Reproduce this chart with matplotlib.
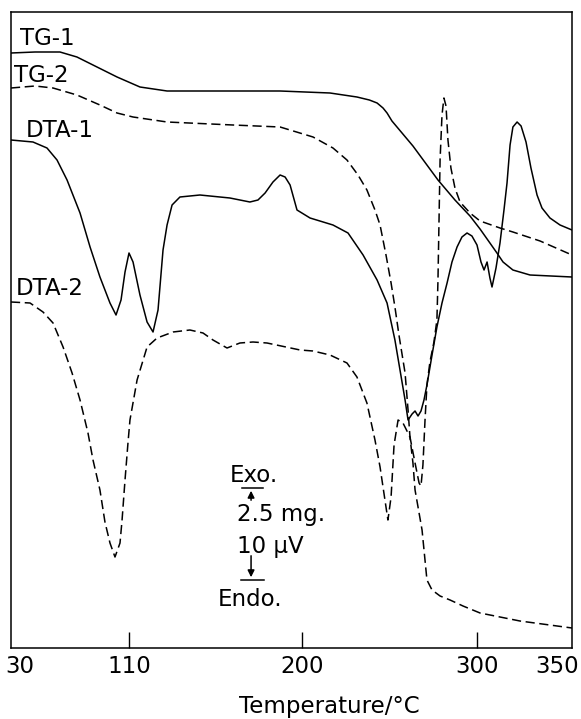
"""TG / DTA thermograms of two samples (1 = solid, 2 = dashed), redrawn from a scan."""
import numpy as np
import matplotlib
matplotlib.use("Agg")
import matplotlib.pyplot as plt
from matplotlib.transforms import ScaledTranslation

# temperature axis of the original is not drawn to a linear scale -> piecewise through the ticks
TICK_T = [30, 110, 200, 300, 350]
TICK_LABELS = ["30", "110", "200", "300", "350"]
TICK_POS = [0, 118, 291, 466, 561]

# signal in arbitrary units (height above the bottom frame), curves offset as in the original
tg1_t = [30, 46.3, 63.2, 74.7, 88.3, 101.9, 115.7, 129.8, 164.1, 188.6, 216, 231.4, 238.5, 242.9,
         246.3, 248.6, 251.4, 263.4, 277.7, 287.4, 296, 301.6, 306.8, 310.5, 313.7, 318.9, 327.9, 350]
tg1_s = [595, 596, 596, 591, 581, 571, 561, 557, 557, 557, 555, 551, 548, 545,
         540, 535, 527, 502, 468, 448, 432, 419, 405, 395, 386, 378, 373, 371]

tg2_t = [30, 46.3, 58.5, 74.7, 90.3, 101.9, 112.1, 129.8, 164.1, 188.6, 206.3, 217.7, 225.7, 232,
         237.1, 241.7, 244.6, 248, 250.9, 253.1, 255.4, 258.9, 260.6, 261.7, 263.4, 264.6, 266.3,
         268.6, 271.4, 274.3, 278.9, 284.6, 292, 301.6, 322.6, 350]
tg2_s = [560, 562, 560, 553, 543, 535, 531, 526, 523, 521, 511, 500, 488, 473,
         458, 438, 423, 393, 365, 341, 313, 275, 238, 211, 185, 158, 141,
         118, 68, 58, 52, 48, 42, 35, 27, 20]

dta1_t = [30, 44.9, 54.4, 61.2, 68, 76.8, 83.6, 90.3, 97.1, 101.2, 104.6, 107.3, 110, 112.1,
          115.7, 119.4, 122.5, 125.1, 127.7, 129.8, 132.4, 136.5, 146.9, 162.5, 172.9, 177.1,
          180.8, 184.9, 188.6, 191.2, 193.8, 197.4, 204.6, 217.7, 226.3, 234.9, 242.9, 248.6,
          253.1, 256, 258.9, 260.6, 262.9, 264.6, 266.3, 268, 269.7, 271.4, 274.3, 277.1, 280,
          282.9, 285.7, 288.6, 291.4, 294.3, 297.1, 300, 302.1, 303.7, 305.3, 306.8, 307.9, 310,
          312.1, 314.2, 315.8, 317.4, 318.9, 321.1, 323.2, 325.8, 328.4, 331.6, 334.2, 338.4,
          343.7, 350]
dta1_s = [508, 506, 500, 488, 468, 435, 401, 371, 345, 333, 348, 376, 395, 386,
          353, 326, 316, 338, 398, 423, 443, 451, 453, 450, 446, 448,
          455, 466, 473, 471, 463, 438, 430, 423, 415, 393, 368, 345,
          308, 278, 248, 228, 234, 237, 232, 237, 248, 263, 293, 321, 345,
          365, 386, 401, 411, 415, 412, 403, 386, 378, 386, 370, 361, 380,
          405, 438, 465, 503, 521, 526, 522, 506, 480, 453, 440, 430,
          423, 418]

dta2_t = [30, 42.9, 51.7, 58.5, 65.3, 71.4, 76.8, 82.2, 85.6, 90.3, 93.7, 97.1, 100.5, 103.9,
          105.3, 107.3, 109.3, 110.5, 114.2, 119.4, 124.6, 132.9, 141.7, 148.5, 153.7, 161,
          167.7, 174.5, 181.8, 199, 206.3, 216, 225.7, 231.4, 237.1, 241.7, 244.6, 247.4, 249.1,
          250.9, 252.6, 254.9, 257.7, 261.7, 264.6, 266.9, 268, 269.1, 270.3, 271.4, 273.1,
          275.4, 277.1, 277.7, 278.3, 278.9, 280, 281.1, 282.3, 283.4, 285.1, 287.4, 290.3, 296,
          301.6, 312.1, 318.9, 333.2, 350]
dta2_s = [346, 345, 336, 325, 301, 275, 248, 215, 188, 158, 126, 105, 91, 105,
          128, 168, 205, 228, 268, 301, 310, 316, 318, 315, 308, 300,
          305, 306, 305, 298, 297, 293, 285, 271, 245, 208, 181, 148, 128,
          151, 203, 228, 225, 211, 185, 165, 162, 183, 228, 263, 286,
          306, 328, 368, 428, 488, 533, 550, 542, 508, 480, 460, 446, 435,
          427, 420, 416, 407, 393]


def fwd(t):
    return np.interp(t, TICK_T, TICK_POS)


def inv(p):
    return np.interp(p, TICK_POS, TICK_T)


fig = plt.figure(figsize=(5.81, 7.19), dpi=100)
ax = fig.add_axes([11 / 581, 71 / 719, 561 / 581, 636 / 719])
ax.set_xscale("function", functions=(fwd, inv))

DASH = (0, (6, 3))
kw = dict(color="black", lw=1.1, solid_joinstyle="round", dash_joinstyle="round")
ax.plot(tg1_t, tg1_s, **kw)
ax.plot(tg2_t, tg2_s, ls=DASH, **kw)
ax.plot(dta1_t, dta1_s, **kw)
ax.plot(dta2_t, dta2_s, ls=DASH, **kw)

ax.set_xlim(30, 350)
ax.set_ylim(0, 636)
ax.set_yticks([])
for s in ax.spines.values():
    s.set_linewidth(1.1)

ax.set_xticks(TICK_T)
ax.set_xticklabels(TICK_LABELS)
ax.tick_params(axis="x", direction="in", length=11.5, width=1.0, labelsize=16.5, pad=5)
ticks = ax.xaxis.get_major_ticks()
ticks[0].tick1line.set_visible(False)
ticks[-1].tick1line.set_visible(False)
lab = ax.get_xticklabels()
lab[0].set_transform(lab[0].get_transform() + ScaledTranslation(0.09, 0, fig.dpi_scale_trans))
lab[-1].set_transform(lab[-1].get_transform() + ScaledTranslation(-0.15, 0, fig.dpi_scale_trans))

fig.text(329 / 581, 1 - 713 / 719, "Temperature/°C", ha="center", va="baseline", fontsize=16.5)

# curve names
tk = dict(fontsize=16.5, ha="left", va="baseline")
ax.text(36.1, 603, "TG-1", **tk)
ax.text(32.0, 566, "TG-2", **tk)
ax.text(40.2, 511, "DTA-1", **tk)
ax.text(33.4, 353, "DTA-2", **tk)

# scale bar
xb = 173.5
ax.text(175.0, 166, "Exo.", fontsize=16.5, ha="center", va="baseline")
ax.plot([168.8, 179.7], [160, 160], color="black", lw=1.1)
ax.annotate("", xy=(xb, 160), xytext=(xb, 145),
            arrowprops=dict(arrowstyle="-|>", color="black", lw=1.1, mutation_scale=10))
ax.text(166.2, 127, "2.5 mg.", fontsize=16.5, ha="left", va="baseline")
ax.text(166.2, 95, "10 μV", fontsize=16.5, ha="left", va="baseline")
ax.annotate("", xy=(xb, 68), xytext=(xb, 95),
            arrowprops=dict(arrowstyle="-|>", color="black", lw=1.1, mutation_scale=10))
ax.plot([168.3, 180.3], [68, 68], color="black", lw=1.1)
ax.text(173.0, 42, "Endo.", fontsize=16.5, ha="center", va="baseline")

fig.savefig("out.png", dpi=100)
